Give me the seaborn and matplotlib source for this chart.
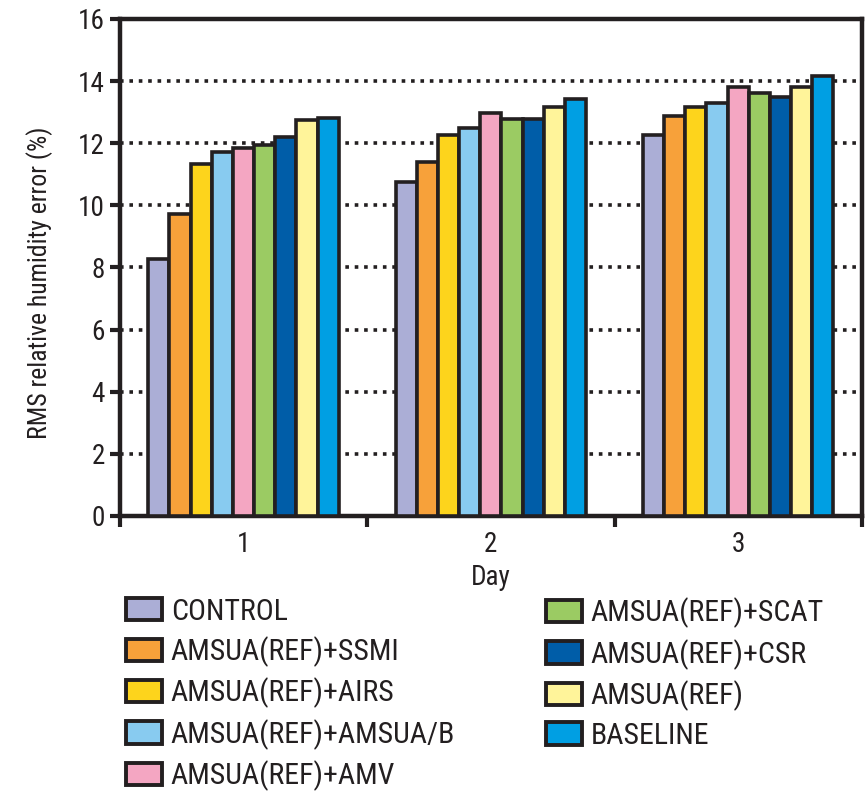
import matplotlib
matplotlib.use("Agg")
import matplotlib.pyplot as plt
from matplotlib import font_manager
import seaborn as sns
import pandas as pd
from matplotlib.patches import Patch

days = ["1", "2", "3"]
experiments = ["CONTROL", "AMSUA(REF)+SSMI", "AMSUA(REF)+AIRS", "AMSUA(REF)+AMSUA/B",
               "AMSUA(REF)+AMV", "AMSUA(REF)+SCAT", "AMSUA(REF)+CSR", "AMSUA(REF)", "BASELINE"]
day1 = [8.26, 9.72, 11.33, 11.73, 11.84, 11.94, 12.19, 12.75, 12.80]
day2 = [10.74, 11.41, 12.27, 12.48, 12.96, 12.78, 12.78, 13.18, 13.43]
day3 = [12.27, 12.89, 13.18, 13.28, 13.82, 13.61, 13.50, 13.82, 14.17]
colors = ["#ABAED6", "#F7A13A", "#FDD41C", "#88CBF0", "#F4A6C2",
          "#9BCB63", "#005DA8", "#FFF49A", "#009FE3"]
yticks = [0, 2, 4, 6, 8, 10, 12, 14, 16]

rows = []
for d, vals in zip(days, [day1, day2, day3]):
    for e, v in zip(experiments, vals):
        rows.append({"Day": d, "Experiment": e, "Error": v})
df = pd.DataFrame(rows)

sns.set_theme(style="white")
installed = {f.name for f in font_manager.fontManager.ttflist}
condensed = [n for n in ["Liberation Sans Narrow", "DejaVu Sans Condensed", "Roboto Condensed",
                         "Open Sans Condensed"] if n in installed]
plt.rcParams["font.family"] = condensed[:1] + ["DejaVu Sans"]
narrow = bool(condensed)
if not narrow:
    plt.rcParams["font.stretch"] = "condensed"

k = 1.0 if narrow else 0.9
fs_tick = 19.5 * k
fs_ylab = 18.5 * k
fs_leg = 21.5 * k
ink = "#231F20"

fig = plt.figure(figsize=(8.68, 7.91), dpi=100)
ax = fig.add_axes([0.138, 0.3477, 0.855, 0.6283])

sns.barplot(data=df, x="Day", y="Error", hue="Experiment", hue_order=experiments,
            palette=colors, width=0.77, edgecolor=ink, linewidth=2.6,
            saturation=1, ax=ax, legend=False, zorder=3)

ax.set_ylim(0, 16)
ax.set_xlim(-0.5, 2.5)
ax.set_yticks(yticks)
ax.set_yticklabels([str(t) for t in yticks], fontsize=fs_tick)
ax.yaxis.grid(True, color=ink, linestyle=(0, (1, 1.6)), linewidth=2.6, zorder=0)
ax.xaxis.grid(False)
ax.set_axisbelow(True)

for s in ax.spines.values():
    s.set_visible(True)
    s.set_color(ink)
    s.set_linewidth(3.2)

ax.tick_params(axis="y", which="major", left=True, direction="out", length=7, width=3,
               color=ink, pad=4, labelcolor=ink)
ax.tick_params(axis="x", which="major", length=0, pad=11, labelsize=fs_tick, labelcolor=ink)
ax.set_xticks([-0.5, 0.5, 1.5, 2.5], minor=True)
ax.tick_params(axis="x", which="minor", bottom=True, direction="out", length=8, width=3,
               color=ink)

ax.set_xlabel("Day", fontsize=fs_tick, color=ink, labelpad=4)
ax.set_ylabel("RMS relative humidity error (%)", fontsize=fs_ylab, color=ink)
ax.yaxis.set_label_coords(-0.09, 0.47)

handles = [Patch(facecolor=c, edgecolor=ink, linewidth=2.8, label=e)
           for c, e in zip(colors, experiments)]
leg_kw = dict(frameon=False, fontsize=fs_leg, loc="upper left",
              handlelength=1.2, handleheight=0.78, handletextpad=0.3,
              labelspacing=0.36, borderpad=0, borderaxespad=0, labelcolor=ink)
leg1 = fig.legend(handles=handles[:5], bbox_to_anchor=(0.1452, 0.2445), **leg_kw)
leg2 = fig.legend(handles=handles[5:], bbox_to_anchor=(0.629, 0.2445), **leg_kw)

fig.savefig("out.png", dpi=100)
